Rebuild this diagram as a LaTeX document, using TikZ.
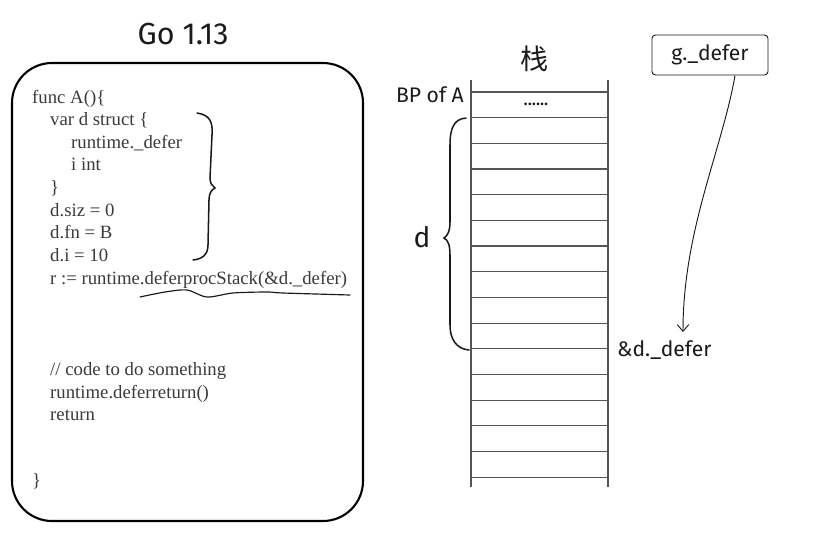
\documentclass[tikz,border=0pt]{standalone}
\usepackage{fontspec}
\setmainfont{Liberation Serif}
\newfontfamily\handfont{Fira Sans}
\newfontfamily\cjkfont{Noto Sans CJK SC}
\usetikzlibrary{arrows.meta,calc}
\definecolor{CodeGray}{HTML}{3A3A3A}
\definecolor{RailGray}{HTML}{555555}
\definecolor{Ink}{HTML}{1A1A1A}

\begin{document}
\begin{tikzpicture}[
  x=0.03cm,y=-0.03cm,
  code/.style={anchor=base west,inner sep=0pt,text=CodeGray,font=\fontsize{16}{18}\selectfont},
  hand/.style={inner sep=0pt,text=Ink,font=\handfont\fontsize{18}{20}\selectfont},
  slot/.style={draw=RailGray,line width=0.9pt},
  curly/.style={draw=Ink,line width=1.3pt,line cap=round},
  ptr/.style={draw=Ink,thick,rounded corners=3pt,minimum width=3.48cm,minimum height=1.2cm},
  arr/.style={-{Straight Barb[length=2mm,width=3.5mm]},thick,draw=Ink}
]
\useasboundingbox (0,0) rectangle (821,533);

% title and code frame
\node[hand,font=\handfont\fontsize{26}{28}\selectfont,anchor=base] (title) at (183,44) {Go 1.13};
\draw[line width=1.8pt,rounded corners=1.2cm] (12,63) rectangle (363,521);

\node[code] (fn) at (32,103) {func A()\{};
\node[code] (vard) at (50,125.6) {var d struct \{};
\node[code] (rdefer) at (71,148) {runtime.\_defer};
\node[code] (iint) at (71,170.7) {i int};
\node[code] (close) at (50,193) {\}};
\node[code] (siz) at (50,216) {d.siz = 0};
\node[code] (dfn) at (50,238.6) {d.fn = B};
\node[code] (di) at (50,261) {d.i = 10};
\node[code] (call) at (50,284) {r := runtime.deferprocStack(\&d.\_defer)};
\node[code] (todo) at (50,375.5) {// code to do something};
\node[code] (dret) at (50,398) {runtime.deferreturn()};
\node[code] (ret) at (50,420.5) {return};
\node[code] (fnend) at (32,486) {\}};

% brace round the struct, wavy mark under the call
\draw[curly] (197,113) .. controls (210,115) and (213,122) .. (212,135) -- (210,178)
  .. controls (210,183) and (212,186) .. (215,188) .. controls (211,190) and (209,194) .. (209,200)
  -- (208,245) .. controls (208,255) and (202,259) .. (193,260);
\draw[curly,line width=1pt] plot[smooth] coordinates {(140,297) (165,292) (187,290) (207,297) (233,293) (267,292) (283,293) (350,295)};

% stack
\node[font=\cjkfont\fontsize{24}{26}\selectfont,text=Ink] (stack) at (535,59) {栈};
\draw[slot] (471,80) -- (471,487);
\draw[slot] (608,80) -- (608,487);
\foreach \i in {0,...,15}
  \draw[slot] (471,{92+\i*25.67}) -- (608,{92+\i*25.67});
\node[font=\bfseries\fontsize{14}{16}\selectfont,text=Ink] (dots) at (536,104) {......};

\node[hand,anchor=base east] (bp) at (464,102) {BP of A};
\node[hand,font=\handfont\fontsize{24}{26}\selectfont] (dvar) at (422,237) {d};
\draw[curly] (466,118) .. controls (454,119) and (450,128) .. (450,145) -- (450,222)
  .. controls (450,232) and (447,236) .. (444,238) .. controls (448,240) and (450,245) .. (450,255)
  -- (450,325) .. controls (450,340) and (457,349) .. (469,350);

% g._defer pointer
\node[ptr,hand] (gdefer) at (710,55) {g.\_defer};
\node[hand,anchor=base west] (daddr) at (617,356) {\&d.\_defer};
\draw[arr] ($(gdefer.south)+(25,0)$) .. controls (722,150) and (683,230) .. ($(daddr.north west)+(66,-8)$);
\end{tikzpicture}
\end{document}
